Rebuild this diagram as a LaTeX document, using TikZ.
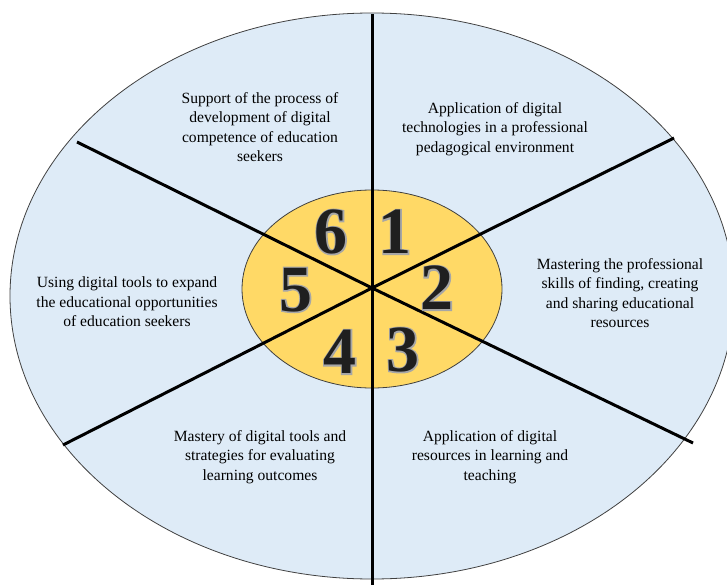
\documentclass[tikz,border=0pt]{standalone}
\usepackage{fontspec}
\setmainfont{Liberation Serif}
\newfontfamily\halofont[FakeBold=4]{Liberation Serif Bold}
\definecolor{sectorblue}{HTML}{DEEBF7}
\definecolor{hubgold}{HTML}{FFD966}
\begin{document}
\begin{tikzpicture}[x=1pt,y=-1pt,
  sector/.style={align=center,font=\fontsize{15.6}{19.5}\selectfont,inner sep=0pt},
  numeral/.style={font=\fontsize{66}{66}\selectfont\bfseries,inner sep=0pt,text=black!88},
  halo/.style={font=\fontsize{66}{66}\selectfont\halofont,inner sep=0pt,text=black!35},
  spoke/.style={line width=3pt,black}]
\useasboundingbox (0,0) rectangle (727,585);
\clip (0,0) rectangle (727,585);
% outer ring and hub
\draw[fill=sectorblue,draw=black!75,line width=0.8pt] (372,296) ellipse [x radius=362pt,y radius=283pt];
\draw[fill=hubgold,draw=black!75,line width=0.8pt] (372,289) ellipse [x radius=130pt,y radius=99pt];
% spokes
\coordinate (hub) at (372,288);
\coordinate (top) at (372,14);
\coordinate (bot) at (372,585);
\coordinate (ne) at (674,138);
\coordinate (se) at (693,443);
\coordinate (nw) at (77,142);
\coordinate (sw) at (63,445);
\foreach \e in {top,bot,ne,se,nw,sw}
  \draw[spoke] (hub) -- (\e);
% numbers
\foreach \n/\px/\py in {1/395/232,2/437/288,3/403/350,4/340/352,5/296/290,6/331/232} {
  \node[halo] at (\px,\py) {\n};
  \node[numeral] (d\n) at (\px,\py) {\n};
}
% sector texts
\node[sector] (t1) at (495,129) {Application of digital\\technologies in a professional\\pedagogical environment};
\node[sector] (t2) at (620,293) {Mastering the professional\\skills of finding, creating\\and sharing educational\\resources};
\node[sector] (t3) at (490,457) {Application of digital\\resources in learning and\\teaching};
\node[sector] (t4) at (260,457) {Mastery of digital tools and\\strategies for evaluating\\learning outcomes};
\node[sector] (t5) at (127,302) {Using digital tools to expand\\the educational opportunities\\of education seekers};
\node[sector] (t6) at (260,127) {Support of the process of\\development of digital\\competence of education\\seekers};
\end{tikzpicture}
\end{document}
